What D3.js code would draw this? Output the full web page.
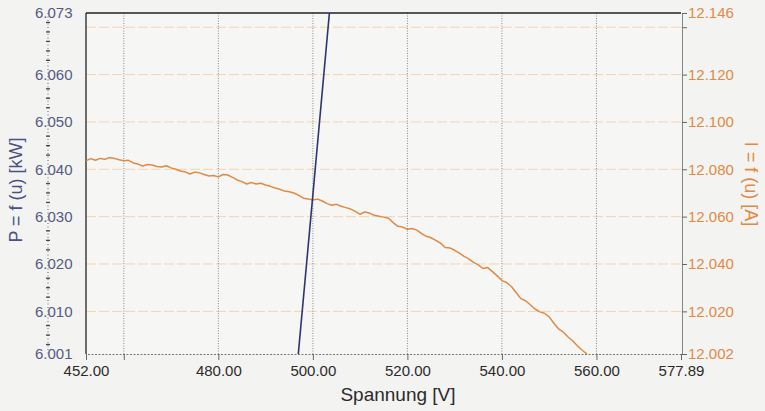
<!DOCTYPE html>
<html>
<head>
<meta charset="utf-8">
<script src="https://cdn.jsdelivr.net/npm/d3@7"></script>
<style>
  body { margin: 0; background: #f3f3f1; }
  svg { display: block; font-family: "Liberation Sans", Arial, sans-serif; }
</style>
</head>
<body>
<div id="wrapper"></div>
<script>
// voltage values for the current curve (V)
const uI = [452,453,454,455,456,457,458,459,460,461,462,463,464,465,466,467,468,469,470,471,
  472,473,474,475,476,477,478,479,480,481,482,483,484,485,486,487,488,489,490,491,
  492,493,494,495,496,497,498,499,500,501,502,503,504,505,506,507,508,509,510,511,
  512,513,514,515,516,517,518,519,520,521,522,523,524,525,526,527,528,529,530,531,
  532,533,534,535,536,537,538,539,540,541,542,543,544,545,546,547,548,549,550,551,
  552,553,554,555,556,557,558]
// current I = f(u) in A
const currentI = [12.0836,12.0845,12.0838,12.0846,12.0842,12.0850,12.0846,12.0840,12.0836,12.0838,
  12.0827,12.0822,12.0814,12.0820,12.0818,12.0812,12.0810,12.0815,12.0806,12.0800,
  12.0793,12.0789,12.0780,12.0788,12.0785,12.0778,12.0772,12.0774,12.0768,12.0778,
  12.0776,12.0766,12.0755,12.0748,12.0738,12.0744,12.0738,12.0741,12.0734,12.0728,
  12.0721,12.0716,12.0708,12.0705,12.0700,12.0690,12.0678,12.0675,12.0670,12.0674,
  12.0666,12.0655,12.0648,12.0652,12.0644,12.0638,12.0632,12.0622,12.0610,12.0620,
  12.0615,12.0606,12.0602,12.0598,12.0593,12.0575,12.0559,12.0556,12.0547,12.0550,
  12.0543,12.0528,12.0517,12.0511,12.0500,12.0488,12.0470,12.0468,12.0458,12.0446,
  12.0432,12.0422,12.0407,12.0396,12.0381,12.0385,12.0368,12.0350,12.0330,12.0322,
  12.0305,12.0280,12.0254,12.0245,12.0228,12.0210,12.0198,12.0192,12.0177,12.0150,
  12.0126,12.0112,12.0092,12.0075,12.0054,12.0036,12.0020]

// power P = f(u) in kW
const uP = [496, 500, 504]
const powerP = [5.991, 6.0346, 6.0785]

// axis ticks
const xTicks = [452, 460, 480, 500, 520, 540, 560, 577.89]
const xTickLabels = ["452.00", "", "480.00", "500.00", "520.00", "540.00", "560.00", "577.89"]
const xGrid = [460, 480, 500, 520, 540, 560]
const pTicks = [6.001, 6.010, 6.020, 6.030, 6.040, 6.050, 6.060, 6.073]
const iTicks = [12.002, 12.020, 12.040, 12.060, 12.080, 12.100, 12.120, 12.140, 12.146]
const iTickLabels = ["12.002", "12.020", "12.040", "12.060", "12.080", "12.100", "12.120", "", "12.146"]
const iGrid = [12.020, 12.040, 12.060, 12.080, 12.100, 12.120, 12.140]

const width = 765
const height = 411
const plot = { left: 86, right: 681, top: 13, bottom: 354 }

const svg = d3.select("#wrapper")
  .append("svg")
  .attr("width", width)
  .attr("height", height)

const xScale = d3.scaleLinear().domain([452, 577.89]).range([plot.left, plot.right])
const pScale = d3.scaleLinear().domain([6.001, 6.073]).range([plot.bottom, plot.top])
const iScale = d3.scaleLinear().domain([12.002, 12.146]).range([plot.bottom, plot.top])

const orange = "#e08a45"

// plot background
svg.append("rect")
  .attr("x", plot.left).attr("y", plot.top)
  .attr("width", plot.right - plot.left).attr("height", plot.bottom - plot.top)
  .attr("fill", "#f6f6f4")

// horizontal grid (orange, dashed, faint)
svg.append("g")
  .selectAll("line")
  .data(iGrid)
  .join("line")
  .attr("x1", plot.left).attr("x2", plot.right)
  .attr("y1", d => iScale(d)).attr("y2", d => iScale(d))
  .attr("stroke", "#f3d4b0")
  .attr("stroke-width", 1)
  .attr("stroke-dasharray", "10,3")

// vertical grid (grey, dotted)
svg.append("g")
  .selectAll("line")
  .data(xGrid)
  .join("line")
  .attr("x1", d => xScale(d)).attr("x2", d => xScale(d))
  .attr("y1", plot.top).attr("y2", plot.bottom)
  .attr("stroke", "#8a8a8a")
  .attr("stroke-width", 1)
  .attr("stroke-dasharray", "1,1.5")

// frame: left and top solid
svg.append("line")
  .attr("x1", plot.left).attr("x2", plot.left)
  .attr("y1", plot.top).attr("y2", plot.bottom)
  .attr("stroke", "#222").attr("stroke-width", 1.3)
svg.append("line")
  .attr("x1", plot.left).attr("x2", plot.right)
  .attr("y1", plot.top).attr("y2", plot.top)
  .attr("stroke", "#222").attr("stroke-width", 1.3)

// clip
svg.append("clipPath").attr("id", "clip")
  .append("rect")
  .attr("x", plot.left).attr("y", plot.top)
  .attr("width", plot.right - plot.left).attr("height", plot.bottom - plot.top)

// current line
const iLine = d3.line()
  .x((d, i) => xScale(uI[i]))
  .y(d => iScale(d))
svg.append("path")
  .datum(currentI)
  .attr("clip-path", "url(#clip)")
  .attr("d", iLine)
  .attr("fill", "none")
  .attr("stroke", orange)
  .attr("stroke-width", 1.5)
  .attr("stroke-linejoin", "round")

// power line
const pLine = d3.line()
  .x((d, i) => xScale(uP[i]))
  .y(d => pScale(d))
svg.append("path")
  .datum(powerP)
  .attr("clip-path", "url(#clip)")
  .attr("d", pLine)
  .attr("fill", "none")
  .attr("stroke", "#2c3670")
  .attr("stroke-width", 1.6)

// x axis (dotted baseline)
const xAxis = svg.append("g")
  .attr("transform", `translate(0,${plot.bottom})`)
  .call(d3.axisBottom(xScale).tickValues(xTicks).tickSize(6)
    .tickFormat((d, i) => xTickLabels[i]))
xAxis.select(".domain")
  .attr("stroke", "#777").attr("stroke-dasharray", "2,1.5")
xAxis.selectAll(".tick line").attr("stroke", "#666")
xAxis.selectAll(".tick text")
  .attr("fill", "#2b2b2b")
  .attr("font-size", 15)
  .attr("font-family", "Liberation Sans, Arial, sans-serif")
  .attr("dy", "0.75em")
  .attr("y", 11)

svg.append("text")
  .attr("x", 398).attr("y", 401)
  .attr("text-anchor", "middle")
  .attr("fill", "#2b2b2b")
  .attr("font-size", 19)
  .text("Spannung [V]")

// left axis (P): dotted spine through labels with small dashes
const leftX = 48
svg.append("line")
  .attr("x1", leftX).attr("x2", leftX)
  .attr("y1", plot.top).attr("y2", plot.bottom)
  .attr("stroke", "#666").attr("stroke-width", 1)
  .attr("stroke-dasharray", "1,2.5")
svg.append("g")
  .selectAll("line")
  .data(d3.range(6.003, 6.0725, 0.002).filter(v => !pTicks.some(t => Math.abs(t - v) < 0.0015)))
  .join("line")
  .attr("x1", leftX - 2).attr("x2", leftX + 2)
  .attr("y1", d => pScale(d)).attr("y2", d => pScale(d))
  .attr("stroke", "#444").attr("stroke-width", 1.3)
svg.append("g")
  .selectAll("text")
  .data(pTicks)
  .join("text")
  .attr("x", 35)
  .attr("y", d => pScale(d))
  .attr("dy", "0.36em")
  .attr("fill", "#555a80")
  .attr("font-size", 15)
  .text(d => d3.format(".3f")(d))

svg.append("text")
  .attr("transform", "translate(22,190) rotate(-90)")
  .attr("text-anchor", "middle")
  .attr("fill", "#4a4f86")
  .attr("font-size", 18)
  .text("P = f (u) [kW]")

// right axis (I)
const rAxis = svg.append("g")
  .attr("transform", `translate(${plot.right + 1},0)`)
  .call(d3.axisRight(iScale).tickValues(iTicks).tickSize(5).tickPadding(1)
    .tickFormat((d, i) => iTickLabels[i]))
rAxis.select(".domain").attr("stroke", "#888")
rAxis.selectAll(".tick line").attr("stroke", "#666")
rAxis.selectAll(".tick text")
  .attr("fill", orange)
  .attr("font-size", 15)
  .attr("font-family", "Liberation Sans, Arial, sans-serif")

svg.append("text")
  .attr("transform", "translate(745,184) rotate(90)")
  .attr("text-anchor", "middle")
  .attr("fill", orange)
  .attr("font-size", 18)
  .text("I = f (u) [A]")
</script>
</body>
</html>
